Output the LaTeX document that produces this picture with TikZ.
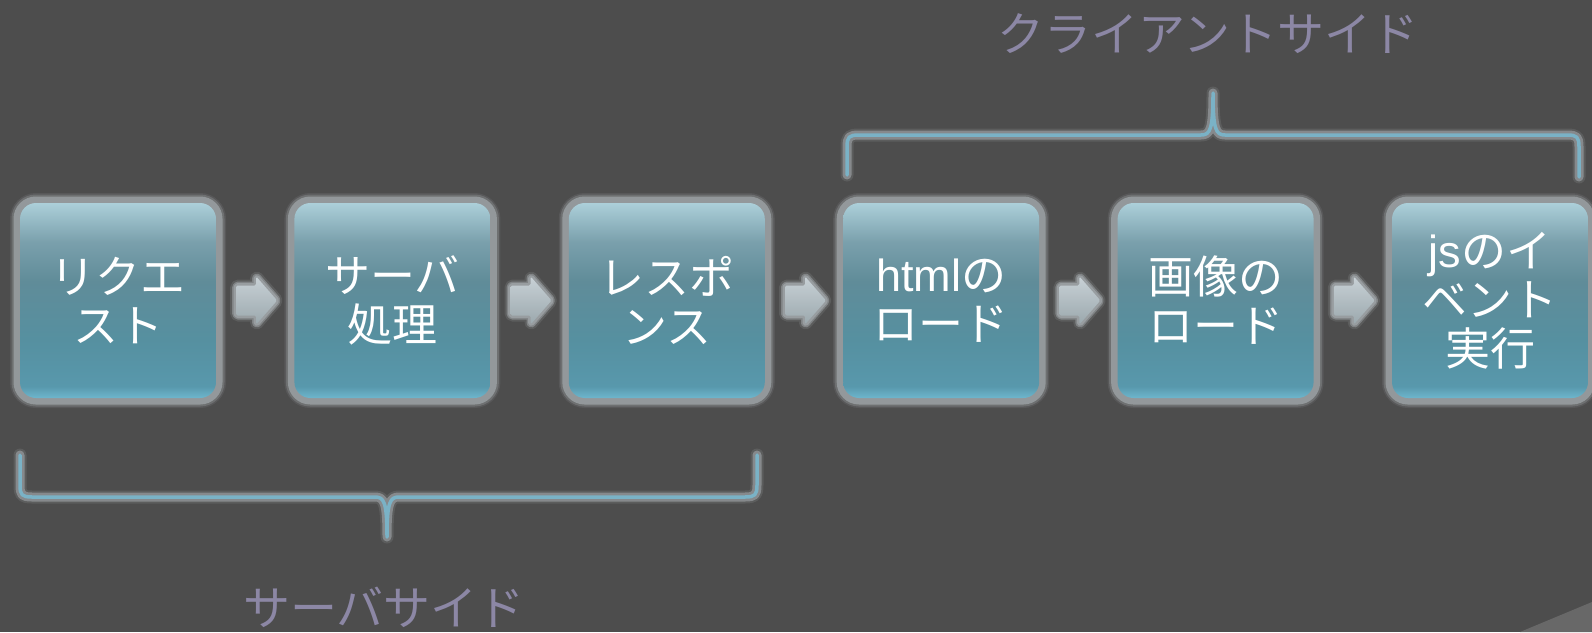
\documentclass[tikz,border=0pt]{standalone}
\usepackage{fontspec}
\setmainfont{Noto Sans CJK JP}
\newfontfamily\latinfont{Liberation Sans}
\usetikzlibrary{calc}
\definecolor{bg}{RGB}{77,77,77}
\definecolor{glowc}{RGB}{152,157,160}
\definecolor{bracec}{RGB}{122,178,198}
\definecolor{labelc}{RGB}{140,135,165}
\definecolor{curlc}{RGB}{104,104,104}
\definecolor{bxA}{RGB}{110,182,205}
\definecolor{bxB}{RGB}{88,152,172}
\definecolor{bxC}{RGB}{86,144,160}
\definecolor{bxD}{RGB}{96,140,153}
\definecolor{bxE}{RGB}{122,160,172}
\definecolor{bxF}{RGB}{172,207,217}
\definecolor{arA}{RGB}{155,168,173}
\definecolor{arB}{RGB}{200,209,214}
\pgfdeclareverticalshading{boxshade}{100bp}{%
  color(0bp)=(bxA);
  color(25bp)=(bxA);
  color(28bp)=(bxB);
  color(40bp)=(bxC);
  color(55bp)=(bxD);
  color(65bp)=(bxE);
  color(75bp)=(bxF);
  color(100bp)=(bxF)}
\pgfdeclareverticalshading{arrowshade}{100bp}{%
  color(0bp)=(arA);
  color(25bp)=(arA);
  color(75bp)=(arB);
  color(100bp)=(arB)}
\tikzset{
  stepbox/.style={rounded corners=16pt, minimum width=196pt, minimum height=195pt,
    inner sep=0pt, align=center, text=white, font=\fontsize{45}{49}\selectfont,
    shading=boxshade,
    preaction={draw=glowc, line width=20pt, opacity=0.15},
    preaction={draw=glowc, line width=17pt, opacity=0.35},
    preaction={draw=glowc, line width=13pt, opacity=0.9}},
  flowarrow/.style={shading=arrowshade, rounded corners=1.5pt,
    preaction={draw=glowc, line width=12pt, opacity=0.2, line join=round},
    preaction={draw=glowc, line width=8pt, opacity=0.6, line join=round},
    preaction={draw=glowc, line width=5pt, line join=round}},
  braceglow/.style={draw=glowc, line width=13pt, opacity=0.2, line cap=round, line join=round},
  braceglowb/.style={draw=glowc, line width=9pt, opacity=0.7, line cap=round, line join=round},
  braceline/.style={draw=bracec, line width=3.5pt, line cap=round, line join=round},
  sidelabel/.style={text=labelc, font=\fontsize{47}{50}\selectfont, inner sep=0pt}
}
\begin{document}
\begin{tikzpicture}[x=1pt,y=-1pt]
\useasboundingbox (0,0) rectangle (1592,632);
\fill[bg] (0,0) rectangle (1592,632);
\fill[curlc] (1520,632) -- (1592,602) -- (1592,632) -- cycle;

\node[stepbox] (b1) at (118,300.5) {リクエ\\スト};
\node[stepbox] (b2) at (392.4,300.5) {サーバ\\処理};
\node[stepbox] (b3) at (666.8,300.5) {レスポ\\ンス};
\node[stepbox] (b4) at (941.2,300.5) {{\latinfont html}の\\ロード};
\node[stepbox] (b5) at (1215.6,300.5) {画像の\\ロード};
\node[stepbox] (b6) at (1490,300.5) {{\latinfont js}のイ\\ベント\\実行};

\foreach \i in {1,...,5}{
  \path[flowarrow] ($(b\i.east)+(20,-15)$) -- ++(20,0) -- ++(0,-9) -- ++(21,24)
     -- ++(-21,24) -- ++(0,-9) -- ++(-20,0) -- cycle;
}

% top brace (client side)
\coordinate (tA) at (847,175);
\coordinate (tM) at (1213,93);
\coordinate (tB) at (1579,177);
\foreach \s in {braceglow,braceglowb,braceline}{
  \path[\s] (tA) -- (847,147) .. controls (847,137) and (849,135) .. (859,135)
    -- (1201,135) .. controls (1210,135) and (1213,130) .. (tM)
    .. controls (1213,130) and (1216,135) .. (1225,135)
    -- (1567,135) .. controls (1577,135) and (1579,137) .. (1579,147) -- (tB);
}
% bottom brace (server side)
\coordinate (sA) at (20,455);
\coordinate (sM) at (387,537);
\coordinate (sB) at (757,455);
\foreach \s in {braceglow,braceglowb,braceline}{
  \path[\s] (sA) -- (20,485) .. controls (20,495) and (22,497) .. (32,497)
    -- (375,497) .. controls (384,497) and (387,502) .. (sM)
    .. controls (387,502) and (390,497) .. (399,497)
    -- (745,497) .. controls (755,497) and (757,495) .. (757,485) -- (sB);
}

\node[sidelabel] (client) at (1208,34) {クライアントサイド};
\node[sidelabel] (server) at (384,607) {サーバサイド};
\end{tikzpicture}
\end{document}
